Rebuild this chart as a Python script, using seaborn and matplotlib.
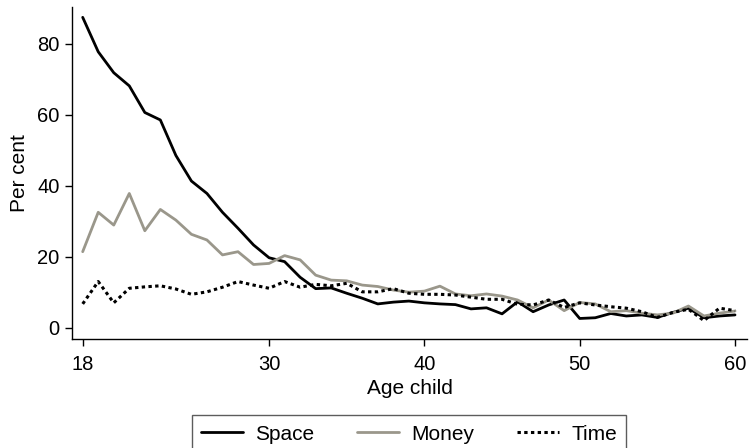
import numpy as np
import pandas as pd
import matplotlib
matplotlib.use("Agg")
import matplotlib.pyplot as plt
import seaborn as sns

# Share of adult children by type of parental help, by age of child
ages = list(range(18, 61))

space = [87.4, 77.7, 71.8, 68.1, 60.6, 58.5, 48.5, 41.3, 37.8, 32.5,
         28.0, 23.3, 19.7, 18.6, 14.2, 11.0, 11.2, 9.7, 8.3, 6.7,
         7.2, 7.5, 7.0, 6.7, 6.5, 5.3, 5.6, 3.9, 7.3, 4.5,
         6.4, 7.8, 2.6, 2.8, 4.0, 3.3, 3.6, 2.9, 4.3, 5.5,
         2.8, 3.3, 3.6]

money = [21.4, 32.5, 28.9, 37.8, 27.3, 33.3, 30.3, 26.3, 24.7, 20.5,
         21.4, 17.8, 18.1, 20.3, 19.1, 14.8, 13.4, 13.2, 12.0, 11.6,
         10.6, 10.0, 10.3, 11.7, 9.5, 9.0, 9.5, 8.9, 7.8, 5.6,
         7.8, 4.8, 7.1, 6.7, 4.5, 4.8, 4.1, 3.6, 4.1, 6.1,
         3.3, 4.1, 4.7]

time = [6.7, 13.0, 7.0, 11.1, 11.5, 11.8, 10.9, 9.4, 10.1, 11.4,
        13.0, 12.0, 11.1, 13.0, 11.4, 12.2, 11.8, 12.5, 10.1, 10.1,
        11.0, 9.7, 9.4, 9.4, 9.2, 8.6, 8.0, 8.0, 6.6, 6.4,
        7.8, 5.7, 7.0, 6.4, 5.9, 5.5, 4.5, 2.9, 4.3, 5.2,
        2.0, 5.5, 4.8]

series_names = ["Space", "Money", "Time"]
x_ticks = [18, 30, 40, 50, 60]
y_ticks = [0, 20, 40, 60, 80]

df = pd.DataFrame({"age": ages, "Space": space, "Money": money, "Time": time})
long = df.melt(id_vars="age", value_vars=series_names,
               var_name="help", value_name="pct")

sns.set_style("ticks")
plt.rcParams["font.family"] = ["Liberation Sans", "DejaVu Sans"]
plt.rcParams["text.color"] = "black"
plt.rcParams["axes.labelcolor"] = "black"
plt.rcParams["xtick.color"] = "black"
plt.rcParams["ytick.color"] = "black"

fig = plt.figure(figsize=(7.49, 4.48), dpi=100)
ax = fig.add_axes([0.0961, 0.2426, 0.9012, 0.7417])

styles = {
    "Space": dict(color="black", linestyle="-", linewidth=2.0),
    "Money": dict(color="#9a978b", linestyle="-", linewidth=2.0),
    "Time": dict(color="black", linestyle=(0, (1.1, 1.1)), linewidth=2.2),
}
for name in series_names:
    sub = long[long["help"] == name]
    sns.lineplot(data=sub, x="age", y="pct", ax=ax, label=name,
                 legend=False, **styles[name])

ax.set_xlim(17.31, 60.77)
ax.set_ylim(-3.27, 90.3)
ax.set_xticks(x_ticks)
ax.set_yticks(y_ticks)
ax.tick_params(axis="both", direction="out", length=5, width=1,
               labelsize=14.5)
ax.tick_params(axis="x", pad=6)
ax.tick_params(axis="y", pad=4)
ax.set_xlabel("Age child", fontsize=15, labelpad=4)
ax.set_ylabel("Per cent", fontsize=15, labelpad=6)
sns.despine(ax=ax)
for side in ("left", "bottom"):
    ax.spines[side].set_linewidth(1.0)
    ax.spines[side].set_color("black")

handles, labels = ax.get_legend_handles_labels()
leg = fig.legend(handles, labels, loc="upper center", ncol=3,
                 bbox_to_anchor=(0.546, 0.073), frameon=True,
                 fancybox=False, edgecolor="#333333", fontsize=15,
                 handlelength=2.0, handletextpad=0.6, columnspacing=2.05,
                 borderpad=0.45, borderaxespad=0)
leg.get_frame().set_linewidth(1.0)

fig.savefig("out.png", dpi=100, facecolor="white")
